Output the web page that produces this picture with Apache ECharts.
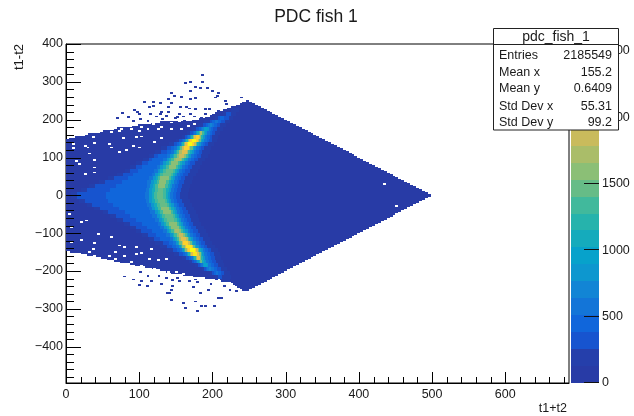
<!DOCTYPE html>
<html><head><meta charset="utf-8">
<script src="https://cdn.jsdelivr.net/npm/echarts@6/dist/echarts.min.js"></script>
<style>html,body{margin:0;padding:0;background:#fff}#c{width:634px;height:416px;filter:blur(0.35px)}</style>
</head><body><div id="c"></div>
<script>
var xTicks=[0,100,200,300,400,500,600];
var xMinor=[20,40,60,80,120,140,160,180,220,240,260,280,320,340,360,380,420,440,460,480,520,540,560,580,620,640,660,680];
var yTicks=[-400,-300,-200,-100,0,100,200,300,400];
var yMinor=[-480,-460,-440,-420,-380,-360,-340,-320,-280,-260,-240,-220,-180,-160,-140,-120,-80,-60,-40,-20,20,40,60,80,120,140,160,180,220,240,260,280,320,340,360,380];
var zTicks=[0,500,1000,1500,2000,2500];
var levelColors=['#283ba6','#253fab','#1754cf','#1066db','#1375d8','#1285d5','#0d97cf','#07a2cb','#15abbc','#26b3ac','#41b99c','#66bc87','#8bbf76','#aabd69','#c9bb5c','#e0bf4d','#f9c43c','#fdd02c','#fbe41c','#f9fb0e'];
var bodyY=[250,246,242,238,234,230,226,222,218,214,210,206,202,198,194,190,186,182,178,174,170,166,162,158,154,150,146,142,138,134,130,126,122,118,114,110,106,102,98,94,90,86,82,78,74,70,66,62,58,54,50,46,42,38,34,30,26,22,18,14,10,6,2,-2,-6,-10,-14,-18,-22,-26,-30,-34,-38,-42,-46,-50,-54,-58,-62,-66,-70,-74,-78,-82,-86,-90,-94,-98,-102,-106,-110,-114,-118,-122,-126,-130,-134,-138,-142,-146,-150,-154,-158,-162,-166,-170,-174,-178,-182,-186,-190,-194,-198,-202,-206,-210,-214,-218,-222,-226,-230,-234,-238,-242,-246,-250];
var bodyStart=[246,240,237,232,226,220,214,208,204,200,196,190,182,172,128,116,98,90,70,66,50,46,30,26,12,4,0,0,0,0,0,0,0,0,0,0,0,0,0,0,0,0,0,0,0,0,0,0,0,0,0,0,0,0,0,0,0,0,0,0,0,0,0,0,0,0,0,0,0,0,0,0,0,0,0,0,0,0,0,0,0,0,0,0,0,0,0,0,0,0,0,0,0,0,0,0,0,0,0,0,6,20,28,40,48,56,66,74,88,94,108,118,128,136,144,160,174,190,210,222,225,228,231,234,237,240];
var bodyEnd=[250,254,258,262,266,270,274,278,282,286,290,294,298,302,306,310,314,318,322,326,330,334,338,342,346,350,354,358,362,366,370,374,378,382,386,390,394,398,402,406,410,414,418,422,426,430,434,438,442,446,450,454,458,462,466,470,474,478,482,486,490,494,498,498,494,490,486,482,478,474,470,466,462,458,454,450,446,442,438,434,430,426,422,418,414,410,406,402,398,394,390,386,382,378,374,370,366,362,358,354,350,346,342,338,334,330,326,322,318,314,310,306,302,298,294,290,286,282,278,274,270,266,262,258,254,250];
var rowCenters=[245,235,225,215,205,195,185,175,165,155,145,135,125,115,105,95,85,75,65,55,45,35,25,15,5,-5,-15,-25,-35,-45,-55,-65,-75,-85,-95,-105,-115,-125,-135,-145,-155,-165,-175,-185,-195,-205,-215,-225,-235,-245];
var rowRuns=[
[242,60,258],
[228,60,265],
[216,60,226,190,236,60,275],
[205,60,214,190,218,320,226,190,232,60,285],
[198,60,204,190,208,320,211,450,216,320,222,190,228,60,295],
[125,60,188,190,197,320,200,450,203,580,208,450,212,320,217,190,224,60,305],
[85,60,180,190,187,320,191,450,194,580,196,700,199,580,202,450,206,320,210,190,218,60,315],
[62,60,172,190,178,320,181,450,184,580,186,700,188,960,192,830,195,580,198,450,201,320,206,190,214,60,325],
[40,60,165,190,170,320,173,450,175,580,177,830,179,1090,181,1340,183,1720,186,1340,188,1090,190,830,193,580,196,450,199,320,203,190,210,60,335],
[18,60,158,190,162,320,165,450,167,580,169,830,171,1210,173,1600,175,1980,177,2230,181,1980,183,1600,185,1210,187,830,190,580,193,450,196,320,200,190,207,60,345],
[0,60,150,190,155,320,158,450,160,580,162,830,164,1210,166,1600,168,1980,170,2230,172,2490,178,2230,180,1850,182,1470,184,1090,186,830,189,580,192,450,195,320,199,190,206,60,355],
[0,60,140,190,147,320,151,450,154,580,157,830,159,1210,161,1600,163,1980,165,2230,167,2490,172,2230,175,1850,177,1470,179,1090,182,830,184,580,187,450,190,320,194,190,202,60,365],
[0,60,130,190,138,320,144,450,148,580,151,830,154,1090,156,1470,159,1850,161,2230,168,1850,170,1470,173,1090,175,830,178,580,181,450,185,320,189,190,198,60,375],
[0,60,122,190,130,320,138,450,143,580,147,830,150,1090,152,1340,155,1720,158,1980,165,1720,167,1340,169,1090,172,830,175,580,178,450,182,320,186,190,196,60,385],
[0,60,113,190,120,320,125,450,138,580,142,830,146,1090,148,1340,151,1600,154,1850,161,1600,164,1340,166,1090,168,830,171,580,175,450,179,320,184,190,194,60,395],
[0,60,105,190,113,320,118,450,133,580,138,830,141,1090,144,1340,147,1600,150,1720,157,1600,159,1340,161,1090,164,830,167,580,171,450,175,320,180,190,190,60,405],
[0,60,96,190,104,320,112,450,129,580,133,830,137,1090,140,1340,144,1600,153,1340,156,1090,159,830,162,580,166,450,170,320,176,190,186,60,415],
[0,60,88,190,96,320,104,450,124,580,129,830,133,1090,136,1340,140,1540,150,1340,153,1090,156,830,159,580,163,450,167,320,172,190,183,60,425],
[0,60,80,190,88,320,98,450,120,580,125,830,129,1090,132,1340,136,1470,146,1340,149,1090,152,830,155,580,159,450,163,320,169,190,180,60,435],
[0,60,70,190,78,320,92,450,117,580,122,830,126,1090,129,1340,133,1470,143,1340,146,1090,149,830,152,580,156,450,160,320,166,190,177,60,445],
[0,60,58,190,66,320,84,450,114,580,119,830,123,1090,126,1340,129,1540,140,1340,143,1090,146,830,149,580,153,450,157,320,163,190,174,60,455],
[0,60,45,190,53,320,76,450,111,580,116,830,120,1090,124,1340,127,1600,137,1340,141,1090,144,830,147,580,151,450,155,320,161,190,172,60,465],
[0,60,32,190,40,320,68,450,110,580,115,830,119,1090,122,1340,126,1540,135,1340,139,1090,142,830,145,580,149,450,153,320,159,190,170,60,475],
[0,60,20,190,28,320,60,450,109,580,114,830,118,1090,121,1340,125,1470,133,1340,137,1090,140,830,143,580,147,450,151,320,157,190,168,60,485],
[1,60,7,190,15,320,55,450,108,580,113,830,117,1090,120,1340,124,1470,132,1340,136,1090,139,830,142,580,146,450,150,320,156,190,167,60,495],
[1,60,7,190,15,320,55,450,108,580,113,830,117,1090,120,1340,124,1470,133,1340,136,1090,139,830,142,580,146,450,150,320,156,190,167,60,495],
[0,60,18,190,26,320,58,450,109,580,114,830,118,1090,122,1340,126,1470,135,1340,138,1090,141,830,144,580,148,450,152,320,158,190,169,60,485],
[0,60,28,190,36,320,64,450,111,580,116,830,120,1090,124,1340,128,1470,138,1340,141,1090,144,830,147,580,151,450,155,320,161,190,172,60,475],
[0,60,38,190,46,320,72,450,113,580,118,830,122,1090,126,1340,130,1600,141,1340,144,1090,147,830,150,580,154,450,158,320,164,190,175,60,465],
[0,60,50,190,58,320,80,450,115,580,121,830,125,1090,128,1340,132,1540,143,1340,146,1090,149,830,152,580,156,450,160,320,166,190,177,60,455],
[0,60,60,190,68,320,88,450,118,580,124,830,128,1090,131,1340,135,1470,146,1340,149,1090,152,830,155,580,159,450,163,320,169,190,180,60,445],
[0,60,70,190,78,320,96,450,122,580,127,830,131,1090,134,1340,138,1470,148,1340,151,1090,154,830,157,580,161,450,165,320,171,190,182,60,435],
[0,60,79,190,87,320,104,450,125,580,130,830,134,1090,137,1340,141,1600,151,1340,154,1090,157,830,160,580,164,450,168,320,174,190,185,60,425],
[0,60,87,190,95,320,110,450,129,580,134,830,138,1090,141,1340,144,1600,154,1340,157,1090,160,830,163,580,167,450,171,320,177,190,188,60,415],
[0,60,95,190,103,320,117,450,133,580,138,830,141,1090,144,1340,147,1600,149,1720,155,1600,157,1340,160,1090,163,830,166,580,170,450,174,320,180,190,191,60,405],
[0,60,104,190,112,320,123,450,137,580,142,830,146,1090,148,1340,151,1600,154,1850,160,1600,162,1340,165,1090,167,830,170,580,174,450,178,320,183,190,194,60,395],
[0,60,113,190,120,320,128,450,142,580,146,830,149,1090,152,1340,155,1720,157,1980,164,1720,166,1340,168,1090,171,830,174,580,178,450,182,320,187,190,197,60,385],
[0,60,121,190,133,320,141,450,146,580,150,830,153,1090,155,1470,158,1850,160,2230,167,1850,169,1470,172,1090,174,830,177,580,181,450,185,320,190,190,200,60,375],
[0,60,128,190,138,320,145,450,150,580,154,830,157,1210,159,1600,162,1980,164,2360,172,1980,174,1470,176,1090,178,830,181,580,185,450,189,320,193,190,203,60,365],
[0,60,138,190,146,320,152,450,156,580,159,830,161,1210,163,1600,165,1980,167,2230,169,2490,176,2230,178,1850,180,1470,182,1090,184,830,187,580,190,450,194,320,198,190,207,60,355],
[22,60,148,190,155,320,160,450,163,580,165,830,167,1210,169,1600,171,1980,173,2360,179,1980,182,1600,184,1210,186,830,189,580,193,450,197,320,202,190,211,60,345],
[45,60,158,190,164,320,168,450,171,580,173,830,175,1210,177,1600,179,1980,183,1600,185,1210,187,830,190,580,194,450,198,320,203,190,212,60,335],
[68,60,168,190,172,320,175,450,177,580,179,830,181,1090,183,1470,186,1090,188,830,191,580,195,450,199,320,205,190,214,60,325],
[95,60,176,190,180,320,183,450,185,580,187,830,189,960,192,830,194,580,198,450,202,320,207,190,216,60,315],
[120,60,186,190,189,320,191,450,193,580,195,700,198,580,202,450,206,320,212,190,220,60,305],
[140,60,197,190,199,320,202,450,205,580,208,450,212,320,216,190,224,60,295],
[162,60,203,190,207,320,213,190,226,60,285],
[195,60,212,190,224,60,275],
[222,60,265],
[236,60,255]
];
var noiseX=[184,184,168,161,175,182,191,198,206,168,142,146,156,168,175,138,118,105,118,112,127,138,155,162,175,167,188,194,206,216,217,238,205,202,142,128,127,91,96,75,99,138,153,147,168,158,188,83,68,114,121,183,174,160,110,130,100,90,150,135,178,161,188,183,201,175,158,142,137,140,142,210,206,192,182,172,167,144,128,109,99,90,78,115,101,204,222,231,215,196,178,153,144,100,110,125,135,150,175];
var noiseY=[315,297,297,294,285,281,281,274,269,274,269,261,258,252,254,252,245,245,234,232,241,232,230,230,225,227,225,225,221,247,239,256,261,256,241,217,212,224,218,215,212,218,212,203,212,206,212,205,201,212,206,201,206,195,195,200,200,195,205,208,-309,-301,-294,-294,-294,-283,-287,-278,-260,-260,-252,-273,-273,-252,-260,-245,-228,-241,-236,-243,-239,-225,-217,-228,-228,-223,-252,-256,-241,-236,-232,-228,-226,-205,-215,-215,-222,-222,-225];
var holeX=[8,8,24,28,37,58,60,90,99,71,81,30,12,17,37,37,24,37,94,101,76,128,119,60,71,99,124,156,142,35,19,46,55,67,78,90,101,117,128,142,153,165,174,74,87,110,433,449,3,5,5,19,26,19,42,60,71,78,94,37,35,115,94,101,65,58,65,78,46,37,30,87,101,112,124,135,71,90,106,119,138,149,158];
var holeY=[133,122,129,124,136,133,124,129,124,113,118,108,89,80,91,71,54,58,151,153,148,149,139,164,168,168,173,173,173,151,157,177,175,181,186,186,177,186,179,190,195,181,186,174,173,173,28,-31,-52,-87,-126,-120,-69,-74,-105,-113,-135,-140,-140,-129,-144,-144,-157,-155,-153,-162,-170,-162,-175,-162,-153,-179,-188,-170,-173,-170,-184,-194,-201,-197,-206,-206,-210];
var zBands=[];
for(var b=0;b<20;b++)zBands.push(b);

var Z_MAX=2550,Z_LEVELS=20,ROW_H=10,BODY_H=4,CELL_W=4,CELL_H=5,DARK=60;
function colorOf(v){return levelColors[Math.min(Z_LEVELS-1,Math.floor(v/(Z_MAX/Z_LEVELS)))];}
var bodyData=bodyY.map(function(y,i){return [bodyStart[i],bodyEnd[i],y-BODY_H/2,y+BODY_H/2,DARK];});
var runData=[];
rowCenters.forEach(function(y,i){var r=rowRuns[i];for(var k=0;k+2<r.length;k+=2){if(r[k+1]!==DARK)runData.push([r[k],r[k+2],y-ROW_H/2,y+ROW_H/2,r[k+1]]);}});
var noiseData=noiseX.map(function(x,i){return [x,x+CELL_W,noiseY[i],noiseY[i]+CELL_H,1];});
var holeData=holeX.map(function(x,i){return [x,x+CELL_W,holeY[i],holeY[i]+CELL_H,0];});
var barData=zBands.map(function(i){return [0,1,i*Z_MAX/Z_LEVELS,(i+1)*Z_MAX/Z_LEVELS,(i+.5)*Z_MAX/Z_LEVELS];});
function cells(fill){return function(params,api){
  var a=api.coord([api.value(0),api.value(3)]),b=api.coord([api.value(1),api.value(2)]);
  var x=Math.round(a[0]),y=Math.round(a[1]),w=Math.max(1,Math.round(b[0])-x),h=Math.max(1,Math.round(b[1])-y);
  return {type:'rect',shape:{x:x,y:y,width:w,height:h},style:{fill:fill||colorOf(api.value(4))}};
};}
function tickRender(dim,len){return function(params,api){
  var v=api.value(0),p;
  if(dim==='x'){p=api.coord([v,-496]);p=[Math.round(p[0])+.5,p[1]];return {type:'line',shape:{x1:p[0],y1:p[1],x2:p[0],y2:p[1]-len},style:{stroke:'#000',lineWidth:1}};}
  if(dim==='y'){p=api.coord([0,v]);p=[p[0],Math.round(p[1])+.5];return {type:'line',shape:{x1:p[0],y1:p[1],x2:p[0]+len,y2:p[1]},style:{stroke:'#000',lineWidth:1}};}
  p=api.coord([1,v]);p=[p[0],Math.round(p[1])-.5];return {type:'line',shape:{x1:p[0],y1:p[1],x2:p[0]-len,y2:p[1]},style:{stroke:'#111',lineWidth:1}};
};}
var FONT='"Liberation Sans",Arial,sans-serif',TXT='#1a1a1a';
function mkSeries(data,fill,xi,yi,z){return {type:'custom',coordinateSystem:'cartesian2d',xAxisIndex:xi,yAxisIndex:yi,data:data,renderItem:cells(fill),encode:{x:[0,1],y:[2,3]},silent:true,clip:true,animation:false,z:z,progressive:0};}
function mkTicks(vals,dim,len,xi,yi){return {type:'custom',coordinateSystem:'cartesian2d',xAxisIndex:xi,yAxisIndex:yi,data:vals.map(function(v){return [v];}),renderItem:tickRender(dim,len),encode:dim==='x'?{x:0}:{y:0},silent:true,clip:false,animation:false,z:6,progressive:0};}
function minus(v){return String(v).replace('-','\u2212');}
function statRow(l,v,y){return [
 {type:'text',z:101,style:{x:499,y:y,text:l,font:'12.5px '+FONT,fill:TXT,verticalAlign:'middle'}},
 {type:'text',z:101,style:{x:612,y:y,text:v,font:'12.5px '+FONT,fill:TXT,align:'right',verticalAlign:'middle'}}];}
var statRows=[['Entries','2185549',56],['Mean x','155.2',72.5],['Mean y','0.6409',89],['Std Dev x','55.31',107],['Std Dev y','99.2',123]];
var gfx=[
 {type:'rect',z:100,shape:{x:493.5,y:28.5,width:125,height:101.5},style:{fill:'#fff',stroke:'#222',lineWidth:1}},
 {type:'line',z:101,shape:{x1:493.5,y1:44.5,x2:618.5,y2:44.5},style:{stroke:'#222',lineWidth:1}},
 {type:'text',z:101,style:{x:556,y:37,text:'pdc_fish_1',font:'14px '+FONT,fill:TXT,align:'center',verticalAlign:'middle'}}
];
statRows.forEach(function(r){gfx=gfx.concat(statRow(r[0],r[1],r[2]));});
var chart=echarts.init(document.getElementById('c'),null,{renderer:'canvas'});
chart.setOption({
 animation:false,backgroundColor:'#fff',
 title:{text:'PDC fish 1',left:311,top:3,textAlign:'center',textStyle:{fontFamily:FONT,fontSize:17.5,fontWeight:'normal',color:TXT}},
 grid:[{left:66,right:65,top:44,bottom:33,show:true,borderColor:'#000',borderWidth:1,backgroundColor:'transparent'},
       {left:571,right:35,top:44,bottom:33,show:false}],
 xAxis:[
  {gridIndex:0,type:'value',min:0,max:687,position:'bottom',name:'t1+t2',nameLocation:'end',nameGap:0,
   nameTextStyle:{fontFamily:FONT,fontSize:12.5,color:TXT,align:'right',verticalAlign:'top',padding:[19,2,0,0]},
   axisLine:{onZero:false,lineStyle:{color:'#000',width:1}},splitLine:{show:false},
   axisTick:{show:false},
   axisLabel:{customValues:xTicks,margin:5,fontFamily:FONT,fontSize:12.5,color:TXT}},
  {gridIndex:1,type:'value',min:0,max:1,show:false}
 ],
 yAxis:[
  {gridIndex:0,type:'value',min:-496,max:400,position:'left',name:'t1-t2',nameLocation:'end',nameRotate:90,nameGap:0,
   nameTextStyle:{fontFamily:FONT,fontSize:13,color:TXT,align:'right',verticalAlign:'bottom',padding:[0,0,40,0]},
   axisLine:{onZero:false,lineStyle:{color:'#000',width:1}},splitLine:{show:false},
   axisTick:{show:false},
   axisLabel:{customValues:yTicks,margin:3,fontFamily:FONT,fontSize:12.5,color:TXT,formatter:minus}},
  {gridIndex:1,type:'value',min:0,max:Z_MAX,position:'right',
   axisLine:{show:false},splitLine:{show:false},axisTick:{show:false},
   axisLabel:{customValues:zTicks,margin:3,fontFamily:FONT,fontSize:12.5,color:TXT,formatter:function(v){return String(v);}}}
 ],
 series:[
  mkSeries(bodyData,null,0,0,1),
  mkSeries(runData,null,0,0,2),
  mkSeries(holeData,'#fff',0,0,3),
  mkSeries(noiseData,levelColors[0],0,0,4),
  mkSeries(barData,null,1,1,1),
  mkTicks(xTicks,'x',11,0,0),
  mkTicks(xMinor,'x',6,0,0),
  mkTicks(yTicks,'y',15,0,0),
  mkTicks(yMinor,'y',8,0,0),
  mkTicks(zTicks,'z',15,1,1)
 ],
 graphic:{elements:gfx}
});
</script></body></html>
